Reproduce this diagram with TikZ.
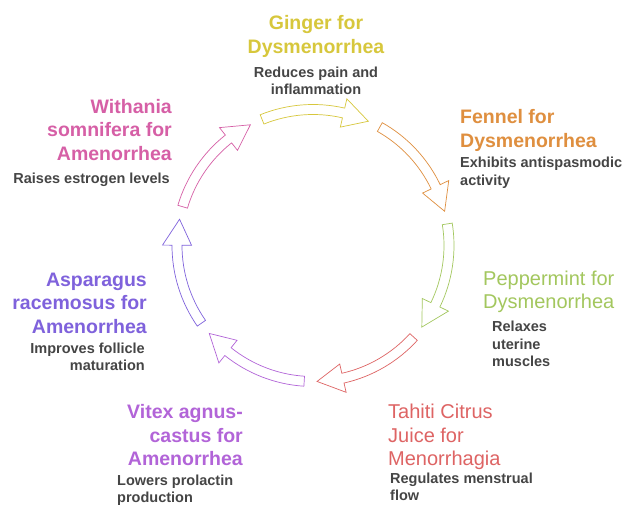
\documentclass[tikz,border=0pt]{standalone}
\usepackage{fontspec}
\setmainfont{Liberation Sans}
\usetikzlibrary{positioning}
\definecolor{gingercol}{HTML}{D7C73C}
\definecolor{fennelcol}{HTML}{DF8F3F}
\definecolor{peppercol}{HTML}{A3C75E}
\definecolor{tahiticol}{HTML}{DE6464}
\definecolor{vitexcol}{HTML}{B264D8}
\definecolor{asparaguscol}{HTML}{7F62DC}
\definecolor{withaniacol}{HTML}{D65FA6}
\definecolor{effectgray}{HTML}{454545}
\tikzset{
  herbtitle/.style={inner sep=0pt, font=\fontsize{19.5}{23.5}\selectfont\bfseries},
  herbtitlelight/.style={inner sep=0pt, font=\fontsize{20}{23.5}\selectfont},
  effect/.style={inner sep=0pt, text=effectgray, font=\fontsize{14.5}{17.5}\selectfont\bfseries},
  cyclearrow/.style={draw=#1, line width=0.7pt, fill=white, line join=miter}
}
% hollow curved arrow on the cycle: start angle, end angle, colour
\newcommand{\herbarrow}[3]{%
  \draw[cyclearrow=#3, shift={(313,-245.5)}]
    (#1:141) arc[start angle=#1, end angle=#2+11, radius=141]
    -- (#2+11:150.5) -- (#2:136) -- (#2+11:121.5) -- (#2+11:131)
    arc[start angle=#2+11, end angle=#1, radius=131] -- cycle;}

\begin{document}
\begin{tikzpicture}[x=1pt, y=1pt]
  \fill[white] (0,0) rectangle (626,-505);
  \useasboundingbox (0,0) rectangle (626,-505);

  % arrows round the cycle
  \foreach \a/\c in {112/gingercol, 60.57/fennelcol, 9.14/peppercol,
                     -42.29/tahiticol, -93.71/vitexcol, -145.14/asparaguscol,
                     163.43/withaniacol}
    \herbarrow{\a}{\a-46}{\c};

  % labels
  \node[herbtitle, text=gingercol, anchor=north, align=center] (ginger) at (316,-15.5) {Ginger for\\Dysmenorrhea};
  \node[effect, anchor=north, align=center] (gingerfx) at (316,-66.5) {Reduces pain and\\inflammation};

  \node[herbtitle, text=fennelcol, anchor=north west, align=left] (fennel) at (460,-109.5) {Fennel for\\Dysmenorrhea};
  \node[effect, anchor=north west, align=left] (fennelfx) at (460,-157) {Exhibits antispasmodic\\activity};

  \node[herbtitlelight, text=peppercol, anchor=north west, align=left] (pepper) at (483,-270.5) {Peppermint for\\Dysmenorrhea};
  \node[effect, anchor=north west, align=left] (pepperfx) at (492,-321) {Relaxes\\uterine\\muscles};

  \node[herbtitlelight, text=tahiticol, anchor=north west, align=left] (tahiti) at (388,-404) {Tahiti Citrus\\Juice for\\Menorrhagia};
  \node[effect, anchor=north west, align=left] (tahitifx) at (390,-472.5) {Regulates menstrual\\flow};

  \node[herbtitle, text=vitexcol, anchor=north east, align=right] (vitex) at (243,-404.5) {Vitex agnus-\\castus for\\Amenorrhea};
  \node[effect, anchor=north west, align=left] (vitexfx) at (117,-474.5) {Lowers prolactin\\production};

  \node[herbtitle, text=asparaguscol, anchor=north east, align=right] (asparagus) at (147,-272.5) {Asparagus\\racemosus for\\Amenorrhea};
  \node[effect, anchor=north east, align=right] (asparagusfx) at (145,-342.5) {Improves follicle\\maturation};

  \node[herbtitle, text=withaniacol, anchor=north east, align=right] (withania) at (172,-99) {Withania\\somnifera for\\Amenorrhea};
  \node[effect, anchor=north east, align=right] (withaniafx) at (170,-172.5) {Raises estrogen levels};
\end{tikzpicture}
\end{document}
